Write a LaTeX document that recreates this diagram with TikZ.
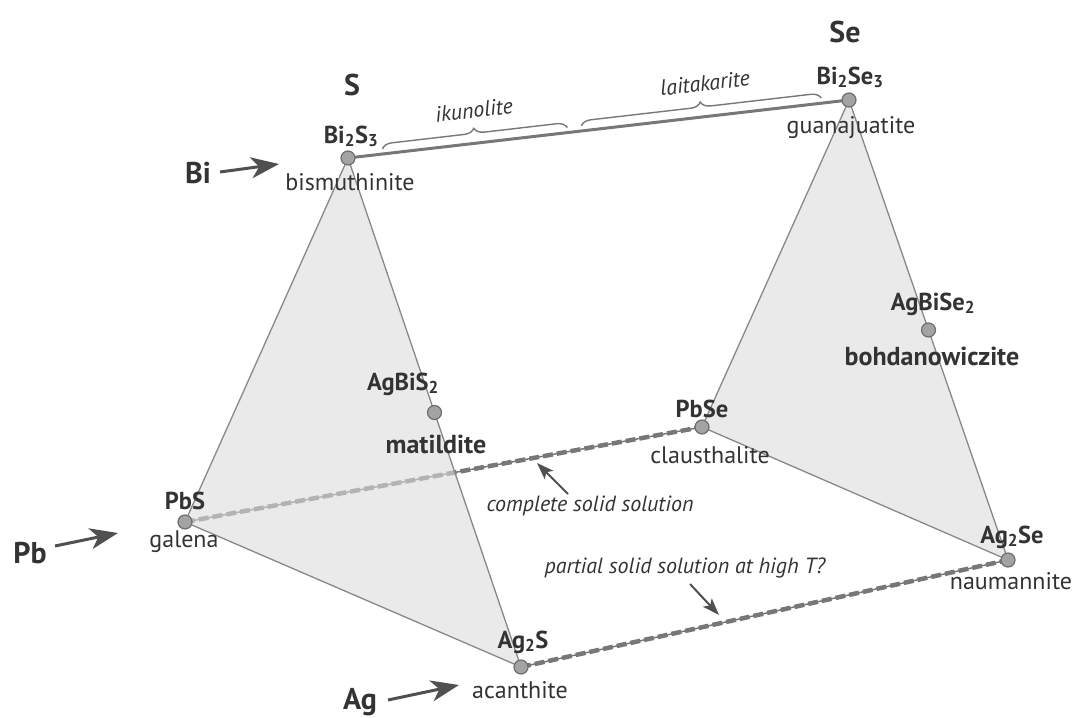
\documentclass[tikz,border=0pt]{standalone}
\usepackage{fontspec}
\setmainfont{PT Sans}
\usetikzlibrary{arrows.meta,decorations.pathreplacing,calc}
\definecolor{txt}{HTML}{333333}
\definecolor{fillc}{HTML}{DCDCDC}
\definecolor{edgec}{HTML}{888888}
\definecolor{dotf}{HTML}{A3A3A3}
\definecolor{dotd}{HTML}{6E6E6E}
\definecolor{dashc}{HTML}{777777}
\definecolor{arr}{HTML}{505050}
\begin{document}
\begin{tikzpicture}[x=1pt,y=-1pt,
  phase/.style={circle,draw=dotd,fill=dotf,line width=1.2pt,minimum size=14pt,inner sep=0pt},
  minname/.style={text=txt,font=\fontsize{24}{27}\selectfont,inner sep=0pt,anchor=base},
  formula/.style={text=txt,font=\bfseries\fontsize{24.5}{27}\selectfont,inner sep=0pt,anchor=base},
  minbold/.style={text=txt,font=\bfseries\fontsize{26}{29}\selectfont,inner sep=0pt,anchor=base},
  elem/.style={text=txt,font=\bfseries\fontsize{30}{34}\selectfont,inner sep=0pt,anchor=base},
  note/.style={text=txt,font=\itshape\fontsize{22}{25}\selectfont,inner sep=0pt},
  edgeline/.style={draw=edgec,line width=1.3pt},
  topline/.style={draw=dashc,line width=3pt},
  thinline/.style={draw=dashc,line width=1.5pt},
  dashline/.style={draw=dashc,line width=4.5pt,dash pattern=on 10pt off 4pt},
  bigarr/.style={draw=arr,line width=3pt,-{Stealth[length=28pt,width=21pt,inset=8pt]}},
  smallarr/.style={draw=arr,line width=2pt,-{Stealth[length=17pt,width=12pt,inset=4pt]}},
  bracestyle/.style={draw=dashc,line width=1.4pt,decorate,decoration={brace,amplitude=10pt}}
]
\useasboundingbox (0,0) rectangle (1075,717);

% positions
\coordinate (bis) at (348,158);
\coordinate (bise) at (849,100);
\coordinate (pbs) at (185,522);
\coordinate (pbse) at (702,427);
\coordinate (ags) at (521,667);
\coordinate (agse) at (1008,560);
\coordinate (agbis) at ($(bis)!0.5!(ags)$);
\coordinate (agbise) at ($(bise)!0.5!(agse)$);

% PbS - PbSe solid solution (behind the faces)
\draw[thinline] (pbs) -- (pbse);
\draw[dashline] (pbs) -- (pbse);

% faces
\fill[fillc,fill opacity=0.6] (bis) -- (pbs) -- (ags) -- cycle;
\fill[fillc,fill opacity=0.6] (bise) -- (pbse) -- (agse) -- cycle;
\draw[edgeline] (bis) -- (pbs) -- (ags) -- cycle;
\draw[edgeline] (bise) -- (pbse) -- (agse) -- cycle;

% Bi2S3 - Bi2Se3
\draw[topline] (bis) -- (bise);

% Ag2S - Ag2Se
\draw[thinline] (ags) -- (agse);
\draw[dashline] (ags) -- (agse);

% braces
\coordinate (ik1) at ($(bis)!0.070!(bise)+(-0.6,-5)$);
\coordinate (ik2) at ($(bis)!0.439!(bise)+(-0.6,-5)$);
\coordinate (la1) at ($(bis)!0.467!(bise)+(-0.6,-5)$);
\coordinate (la2) at ($(bis)!0.946!(bise)+(-0.6,-5)$);
\draw[bracestyle] (ik1) -- (ik2);
\draw[bracestyle] (la1) -- (la2);
\node[note,rotate=6.6] (ikun) at (474,110) {ikunolite};
\node[note,rotate=6.6] (lait) at (705,83) {laitakarite};

% phase points
\node[phase] (nbis) at (bis) {};
\node[phase] (nbise) at (bise) {};
\node[phase] (npbs) at (pbs) {};
\node[phase] (npbse) at (pbse) {};
\node[phase] (nags) at (ags) {};
\node[phase] (nagse) at (agse) {};
\node[phase] (nagbis) at (agbis) {};
\node[phase] (nagbise) at (agbise) {};

% labels
\node[elem] (lS) at (352,95) {S};
\node[elem] (lSe) at (845,43) {Se};
\node[formula] (fbis) at (351,143) {Bi\textsubscript{2}S\textsubscript{3}};
\node[minname] (mbis) at (350,190) {bismuthinite};
\node[formula] (fbise) at (850,84) {Bi\textsubscript{2}Se\textsubscript{3}};
\node[minname] (mbise) at (851,133) {guanajuatite};
\node[formula] (fpbs) at (185,509) {PbS};
\node[minname] (mpbs) at (184,547) {galena};
\node[formula] (fpbse) at (702,417) {PbSe};
\node[minname] (mpbse) at (710,463) {clausthalite};
\node[formula] (fagbis) at (403,390) {AgBiS\textsubscript{2}};
\node[minbold] (magbis) at (436,453) {matildite};
\node[formula] (fagbise) at (933,310) {AgBiSe\textsubscript{2}};
\node[minbold] (magbise) at (932,365) {bohdanowiczite};
\node[formula] (fagse) at (1012,543) {Ag\textsubscript{2}Se};
\node[minname] (magse) at (1011,589) {naumannite};
\node[formula] (fags) at (523,648) {Ag\textsubscript{2}S};
\node[minname] (mags) at (520,698) {acanthite};

% element arrows
\node[elem] (lBi) at (198,183) {Bi};
\node[elem] (lPb) at (30,563) {Pb};
\node[elem] (lAg) at (360,709) {Ag};
\coordinate (biA) at (220,172);
\coordinate (biB) at (279,164);
\coordinate (pbA) at (55,546);
\coordinate (pbB) at (118,533);
\coordinate (agA) at (388,700);
\coordinate (agB) at (459,685);
\draw[bigarr] (biA) -- (biB);
\draw[bigarr] (pbA) -- (pbB);
\draw[bigarr] (agA) -- (agB);

% annotations
\node[note] (css) at (590,506) {complete solid solution};
\coordinate (cssA) at (568,494);
\coordinate (cssB) at (537,463);
\draw[smallarr] (cssA) -- (cssB);
\node[note] (pss) at (685,568) {partial solid solution at high T?};
\coordinate (pssA) at (690,584);
\coordinate (pssB) at (719,615);
\draw[smallarr] (pssA) -- (pssB);
\end{tikzpicture}
\end{document}
